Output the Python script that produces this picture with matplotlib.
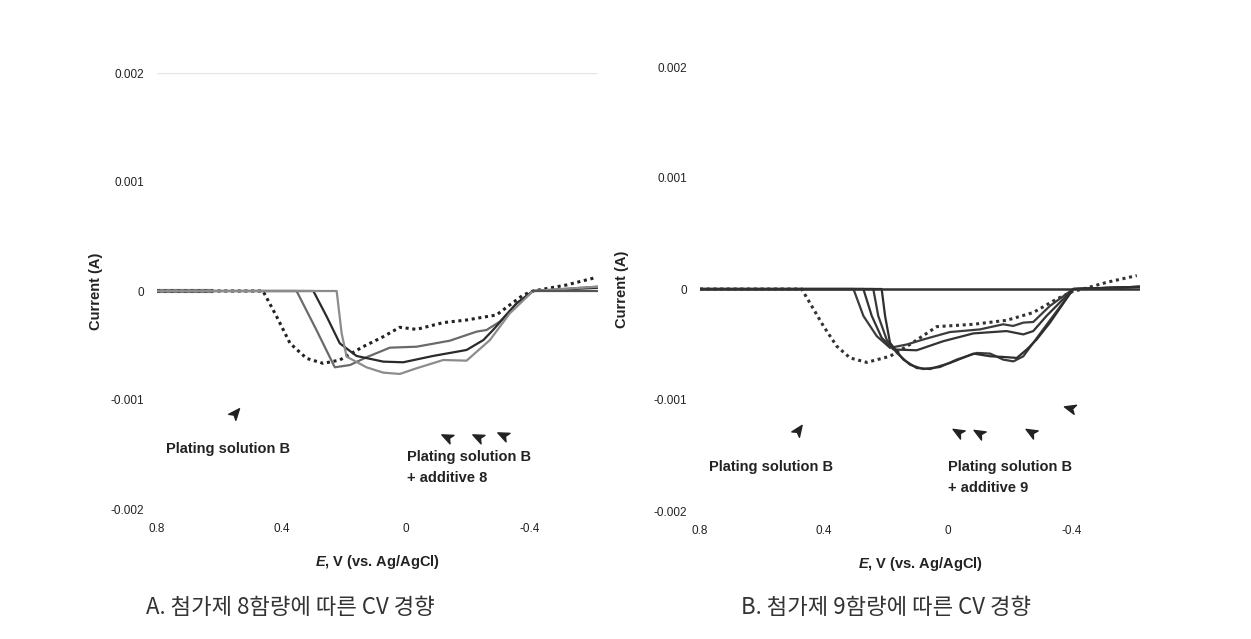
import matplotlib
matplotlib.use("Agg")
import matplotlib.pyplot as plt
from matplotlib.path import Path
from matplotlib.markers import MarkerStyle
from matplotlib.transforms import Affine2D

plt.rcParams["mathtext.fontset"] = "custom"
plt.rcParams["mathtext.rm"] = "Liberation Sans"
plt.rcParams["mathtext.it"] = "Liberation Sans:italic"
plt.rcParams["mathtext.bf"] = "Liberation Sans:bold"
plt.rcParams["mathtext.bfit"] = "Liberation Sans:italic:bold"

# ---------------- data (E in V, current in A) ----------------
# Panel A : plating solution B (dotted) and B + additive 8 (three solid)
a_base_E = [0.80, 0.459, 0.415, 0.372, 0.319, 0.265, 0.212, 0.137, 0.072, 0.019, -0.035, -0.121, -0.196, -0.292, -0.335, -0.378, -0.41, -0.517, -0.614]
a_base_I = [0.0, 0.0, -0.235e-3, -0.48e-3, -0.618e-3, -0.664e-3, -0.633e-3, -0.511e-3, -0.419e-3, -0.333e-3, -0.352e-3, -0.29e-3, -0.266e-3, -0.22e-3, -0.128e-3, -0.037e-3, 0.0, 0.055e-3, 0.125e-3]

a_add1_E = [0.80, 0.351, 0.287, 0.228, 0.179, 0.126, 0.051, -0.035, -0.142, -0.228, -0.26, -0.303, -0.357, -0.41, -0.62]
a_add1_I = [0.0, 0.0, -0.358e-3, -0.70e-3, -0.679e-3, -0.608e-3, -0.52e-3, -0.511e-3, -0.456e-3, -0.373e-3, -0.358e-3, -0.281e-3, -0.113e-3, 0.0, 0.04e-3]

a_add2_E = [0.80, 0.297, 0.254, 0.212, 0.158, 0.072, 0.008, -0.088, -0.196, -0.25, -0.281, -0.357, -0.41, -0.62]
a_add2_I = [0.0, 0.0, -0.235e-3, -0.48e-3, -0.596e-3, -0.648e-3, -0.654e-3, -0.596e-3, -0.541e-3, -0.45e-3, -0.358e-3, -0.113e-3, 0.0, 0.03e-3]

a_add3_E = [0.80, 0.222, 0.206, 0.19, 0.126, 0.072, 0.019, -0.035, -0.121, -0.196, -0.271, -0.335, -0.41, -0.62]
a_add3_I = [0.0, 0.0, -0.388e-3, -0.602e-3, -0.70e-3, -0.749e-3, -0.761e-3, -0.709e-3, -0.633e-3, -0.639e-3, -0.45e-3, -0.205e-3, 0.0, 0.04e-3]

# Panel B : plating solution B (dotted) and B + additive 9 (four solid)
b_base_E = [0.80, 0.472, 0.434, 0.402, 0.359, 0.316, 0.262, 0.187, 0.123, 0.036, -0.082, -0.189, -0.275, -0.351, -0.404, -0.436, -0.512, -0.609]
b_base_I = [0.0, 0.0, -0.18e-3, -0.333e-3, -0.515e-3, -0.621e-3, -0.661e-3, -0.606e-3, -0.5e-3, -0.339e-3, -0.318e-3, -0.282e-3, -0.212e-3, -0.09e-3, -0.02e-3, 0.0, 0.06e-3, 0.121e-3]

b_add1_E = [0.80, 0.305, 0.273, 0.23, 0.187, 0.133, 0.08, -0.006, -0.103, -0.178, -0.21, -0.243, -0.275, -0.329, -0.404, -0.62]
b_add1_I = [0.0, 0.0, -0.242e-3, -0.424e-3, -0.53e-3, -0.5e-3, -0.455e-3, -0.388e-3, -0.364e-3, -0.318e-3, -0.333e-3, -0.303e-3, -0.297e-3, -0.152e-3, 0.0, 0.02e-3]

b_add2_E = [0.80, 0.273, 0.246, 0.214, 0.176, 0.101, 0.015, -0.082, -0.189, -0.243, -0.275, -0.318, -0.404, -0.62]
b_add2_I = [0.0, 0.0, -0.242e-3, -0.439e-3, -0.545e-3, -0.552e-3, -0.47e-3, -0.4e-3, -0.379e-3, -0.409e-3, -0.379e-3, -0.242e-3, 0.0, 0.02e-3]

b_add3_E = [0.80, 0.241, 0.225, 0.198, 0.165, 0.123, 0.08, 0.026, -0.028, -0.093, -0.136, -0.178, -0.211, -0.243, -0.275, -0.307, -0.404, -0.62]
b_add3_I = [0.0, 0.0, -0.242e-3, -0.455e-3, -0.576e-3, -0.682e-3, -0.721e-3, -0.703e-3, -0.636e-3, -0.576e-3, -0.582e-3, -0.636e-3, -0.652e-3, -0.606e-3, -0.485e-3, -0.364e-3, 0.0, 0.02e-3]

b_add4_E = [0.80, 0.214, 0.203, 0.187, 0.144, 0.101, 0.058, -0.006, -0.082, -0.136, -0.178, -0.222, -0.254, -0.286, -0.329, -0.404, -0.62]
b_add4_I = [0.0, 0.0, -0.242e-3, -0.485e-3, -0.636e-3, -0.712e-3, -0.721e-3, -0.667e-3, -0.582e-3, -0.606e-3, -0.612e-3, -0.621e-3, -0.545e-3, -0.455e-3, -0.303e-3, 0.0, 0.02e-3]

# arrowhead marker positions (E, I, pointing direction in degrees from +x on screen)
a_arrows_E = [0.549, -0.133, -0.232, -0.313]
a_arrows_I = [-1.12e-3, -1.34e-3, -1.34e-3, -1.32e-3]
a_arrows_dir = [50, 155, 155, 155]
b_arrows_E = [0.484, -0.032, -0.1, -0.268, -0.394]
b_arrows_I = [-1.27e-3, -1.29e-3, -1.30e-3, -1.29e-3, -1.07e-3]
b_arrows_dir = [55, 150, 150, 150, 165]

x_ticks = [0.8, 0.4, 0.0, -0.4]
x_tick_labels = ["0.8", "0.4", "0", "-0.4"]
y_ticks = [0.002, 0.001, 0.0, -0.001, -0.002]
y_tick_labels = ["0.002", "0.001", "0", "-0.001", "-0.002"]

captions = ["A. 첨가제 8함량에 따른 CV 경향", "B. 첨가제 9함량에 따른 CV 경향"]

# ---------------- figure ----------------
W, H = 1251, 639
fig = plt.figure(figsize=(W / 100, H / 100), dpi=100)
fig.patch.set_facecolor("white")
LAT = "Liberation Sans"

arrow_path = Path([(1.0, 0.0), (-0.8, 0.75), (-0.35, 0.0), (-0.8, -0.75), (1.0, 0.0)],
                  [Path.MOVETO, Path.LINETO, Path.LINETO, Path.LINETO, Path.CLOSEPOLY])


def make_axes(x08, x_m04, y_top, y_bot):
    px_per_V = (x_m04 - x08) / 1.2
    x_right = x08 + px_per_V * 1.42
    ax = fig.add_axes([x08 / W, 1 - y_bot / H, (x_right - x08) / W, (y_bot - y_top) / H])
    ax.set_xlim(0.8, -0.62)
    ax.set_ylim(-0.002, 0.002)
    for s in ax.spines.values():
        s.set_visible(False)
    ax.set_xticks(x_ticks)
    ax.set_xticklabels(x_tick_labels, fontsize=8.5, family=LAT, color="#222222")
    ax.set_yticks(y_ticks)
    ax.set_yticklabels(y_tick_labels, fontsize=8.5, family=LAT, color="#222222")
    ax.tick_params(length=0, pad=9)
    ax.tick_params(axis="x", pad=10)
    ax.set_facecolor("none")
    return ax


def draw_markers(ax, Es, Is, dirs):
    for e, i, d in zip(Es, Is, dirs):
        m = MarkerStyle(arrow_path, transform=Affine2D().rotate_deg(d))
        ax.plot([e], [i], marker=m, markersize=9, color="#222222", linestyle="none")


# ---- Panel A ----
axA = make_axes(157, 530, 73, 509)
axA.axhline(0.002, color="#e6e6e6", lw=1.0)
axA.plot([0.8, 0.62], [0, 0], color="#888888", lw=3, solid_capstyle="butt")
axA.plot(a_base_E, a_base_I, color="#222222", lw=2.2, linestyle=(0, (1, 1.2)))
axA.plot(a_add1_E, a_add1_I, color="#6a6a6a", lw=1.6)
axA.plot(a_add2_E, a_add2_I, color="#2a2a2a", lw=1.6)
axA.plot(a_add3_E, a_add3_I, color="#8c8c8c", lw=1.6)
axA.plot([-0.41, -0.62], [0.0, 0.0], color="#555555", lw=1.6)
draw_markers(axA, a_arrows_E, a_arrows_I, a_arrows_dir)
axA.text(0.77, -1.45e-3, "Plating solution B", fontsize=10.5, family=LAT, weight="bold", color="#222222", va="center")
axA.text(-0.005, -1.62e-3, "Plating solution B\n+ additive 8", fontsize=10.5, family=LAT, weight="bold",
         color="#222222", va="center", linespacing=1.6)
axA.set_ylabel("Current (A)", fontsize=10.5, family=LAT, weight="bold", color="#222222", labelpad=6)
axA.set_xlabel(r"$\bfit{E}$, V (vs. Ag/AgCl)", fontsize=10.5, family=LAT, weight="bold", color="#222222", labelpad=13)

# ---- Panel B ----
axB = make_axes(700, 1072, 67, 511)
axB.plot(b_base_E, b_base_I, color="#333333", lw=2.2, linestyle=(0, (1, 1.2)))
axB.plot(b_add1_E, b_add1_I, color="#3c3c3c", lw=1.6)
axB.plot(b_add2_E, b_add2_I, color="#333333", lw=1.6)
axB.plot(b_add3_E, b_add3_I, color="#3a3a3a", lw=1.6)
axB.plot(b_add4_E, b_add4_I, color="#2e2e2e", lw=1.6)
axB.plot([0.8, -0.62], [0, 0], color="#333333", lw=1.8)
draw_markers(axB, b_arrows_E, b_arrows_I, b_arrows_dir)
axB.text(0.77, -1.60e-3, "Plating solution B", fontsize=10.5, family=LAT, weight="bold", color="#222222", va="center")
axB.text(0.0, -1.70e-3, "Plating solution B\n+ additive 9", fontsize=10.5, family=LAT, weight="bold",
         color="#222222", va="center", linespacing=1.6)
axB.set_ylabel("Current (A)", fontsize=10.5, family=LAT, weight="bold", color="#222222", labelpad=18)
axB.set_xlabel(r"$\bfit{E}$, V (vs. Ag/AgCl)", fontsize=10.5, family=LAT, weight="bold", color="#222222", labelpad=13)

# ---- captions ----
fig.text(290 / W, 1 - 607 / H, captions[0], fontsize=16, family=["Noto Sans CJK KR", "DejaVu Sans"],
         weight="light", color="#333333", ha="center", va="center")
fig.text(886 / W, 1 - 607 / H, captions[1], fontsize=16, family=["Noto Sans CJK KR", "DejaVu Sans"],
         weight="light", color="#333333", ha="center", va="center")

fig.savefig("out.png", dpi=100, facecolor="white")
